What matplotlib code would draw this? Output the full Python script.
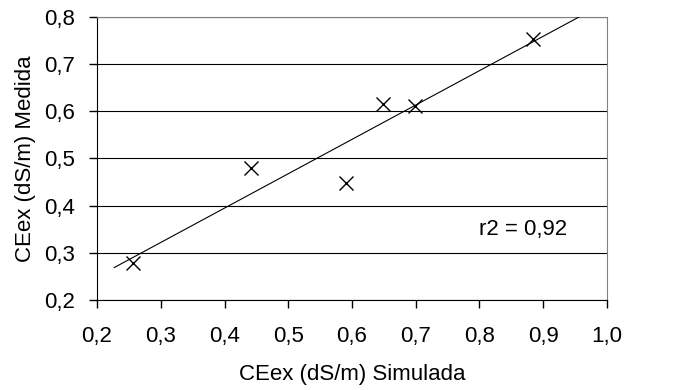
import numpy as np
import matplotlib.pyplot as plt
from matplotlib.ticker import FuncFormatter

simulada = [0.257, 0.442, 0.590, 0.648, 0.699, 0.884]
medida = [0.278, 0.479, 0.449, 0.615, 0.611, 0.753]
x_ticks = [0.2, 0.3, 0.4, 0.5, 0.6, 0.7, 0.8, 0.9, 1.0]
y_ticks = [0.2, 0.3, 0.4, 0.5, 0.6, 0.7, 0.8]
r2_label = 'r2 = 0,92'

plt.rcParams['font.family'] = ['Liberation Sans', 'DejaVu Sans']

fig = plt.figure(figsize=(6.9, 3.9), dpi=100)
ax = fig.add_axes([0.1406, 0.2308, 0.7391, 0.7256])

# linear trendline (least squares), drawn from a little before the first point
slope, intercept = np.polyfit(simulada, medida, 1)
xt = np.array([0.227, 1.0])
ax.plot(xt, slope*xt + intercept, color='black', linewidth=0.8, zorder=3)

ax.plot(simulada, medida, 'x', color='black', markersize=10, markeredgewidth=1.0, zorder=4)

ax.set_xlim(0.2, 1.0)
ax.set_ylim(0.2, 0.8)
ax.set_xticks(x_ticks)
ax.set_yticks(y_ticks)
comma = FuncFormatter(lambda v, p: f'{v:.1f}'.replace('.', ','))
ax.xaxis.set_major_formatter(comma)
ax.yaxis.set_major_formatter(comma)
ax.yaxis.grid(True, color='black', linewidth=0.8)
ax.set_axisbelow(True)

ax.tick_params(direction='out', length=6, width=1, labelsize=16, colors='black')
ax.tick_params(axis='x', pad=13)
ax.tick_params(axis='y', pad=10)
for s in ['top', 'right']:
    ax.spines[s].set_color('#808080')
for s in ['left', 'bottom']:
    ax.spines[s].set_color('black')

ax.set_xlabel('CEex (dS/m) Simulada', fontsize=16, labelpad=12)
ax.set_ylabel('CEex (dS/m) Medida', fontsize=16, labelpad=6)
ax.text(0.80, 0.35, r2_label, fontsize=16, va='center', ha='left')

plt.savefig('out.png', dpi=100)
